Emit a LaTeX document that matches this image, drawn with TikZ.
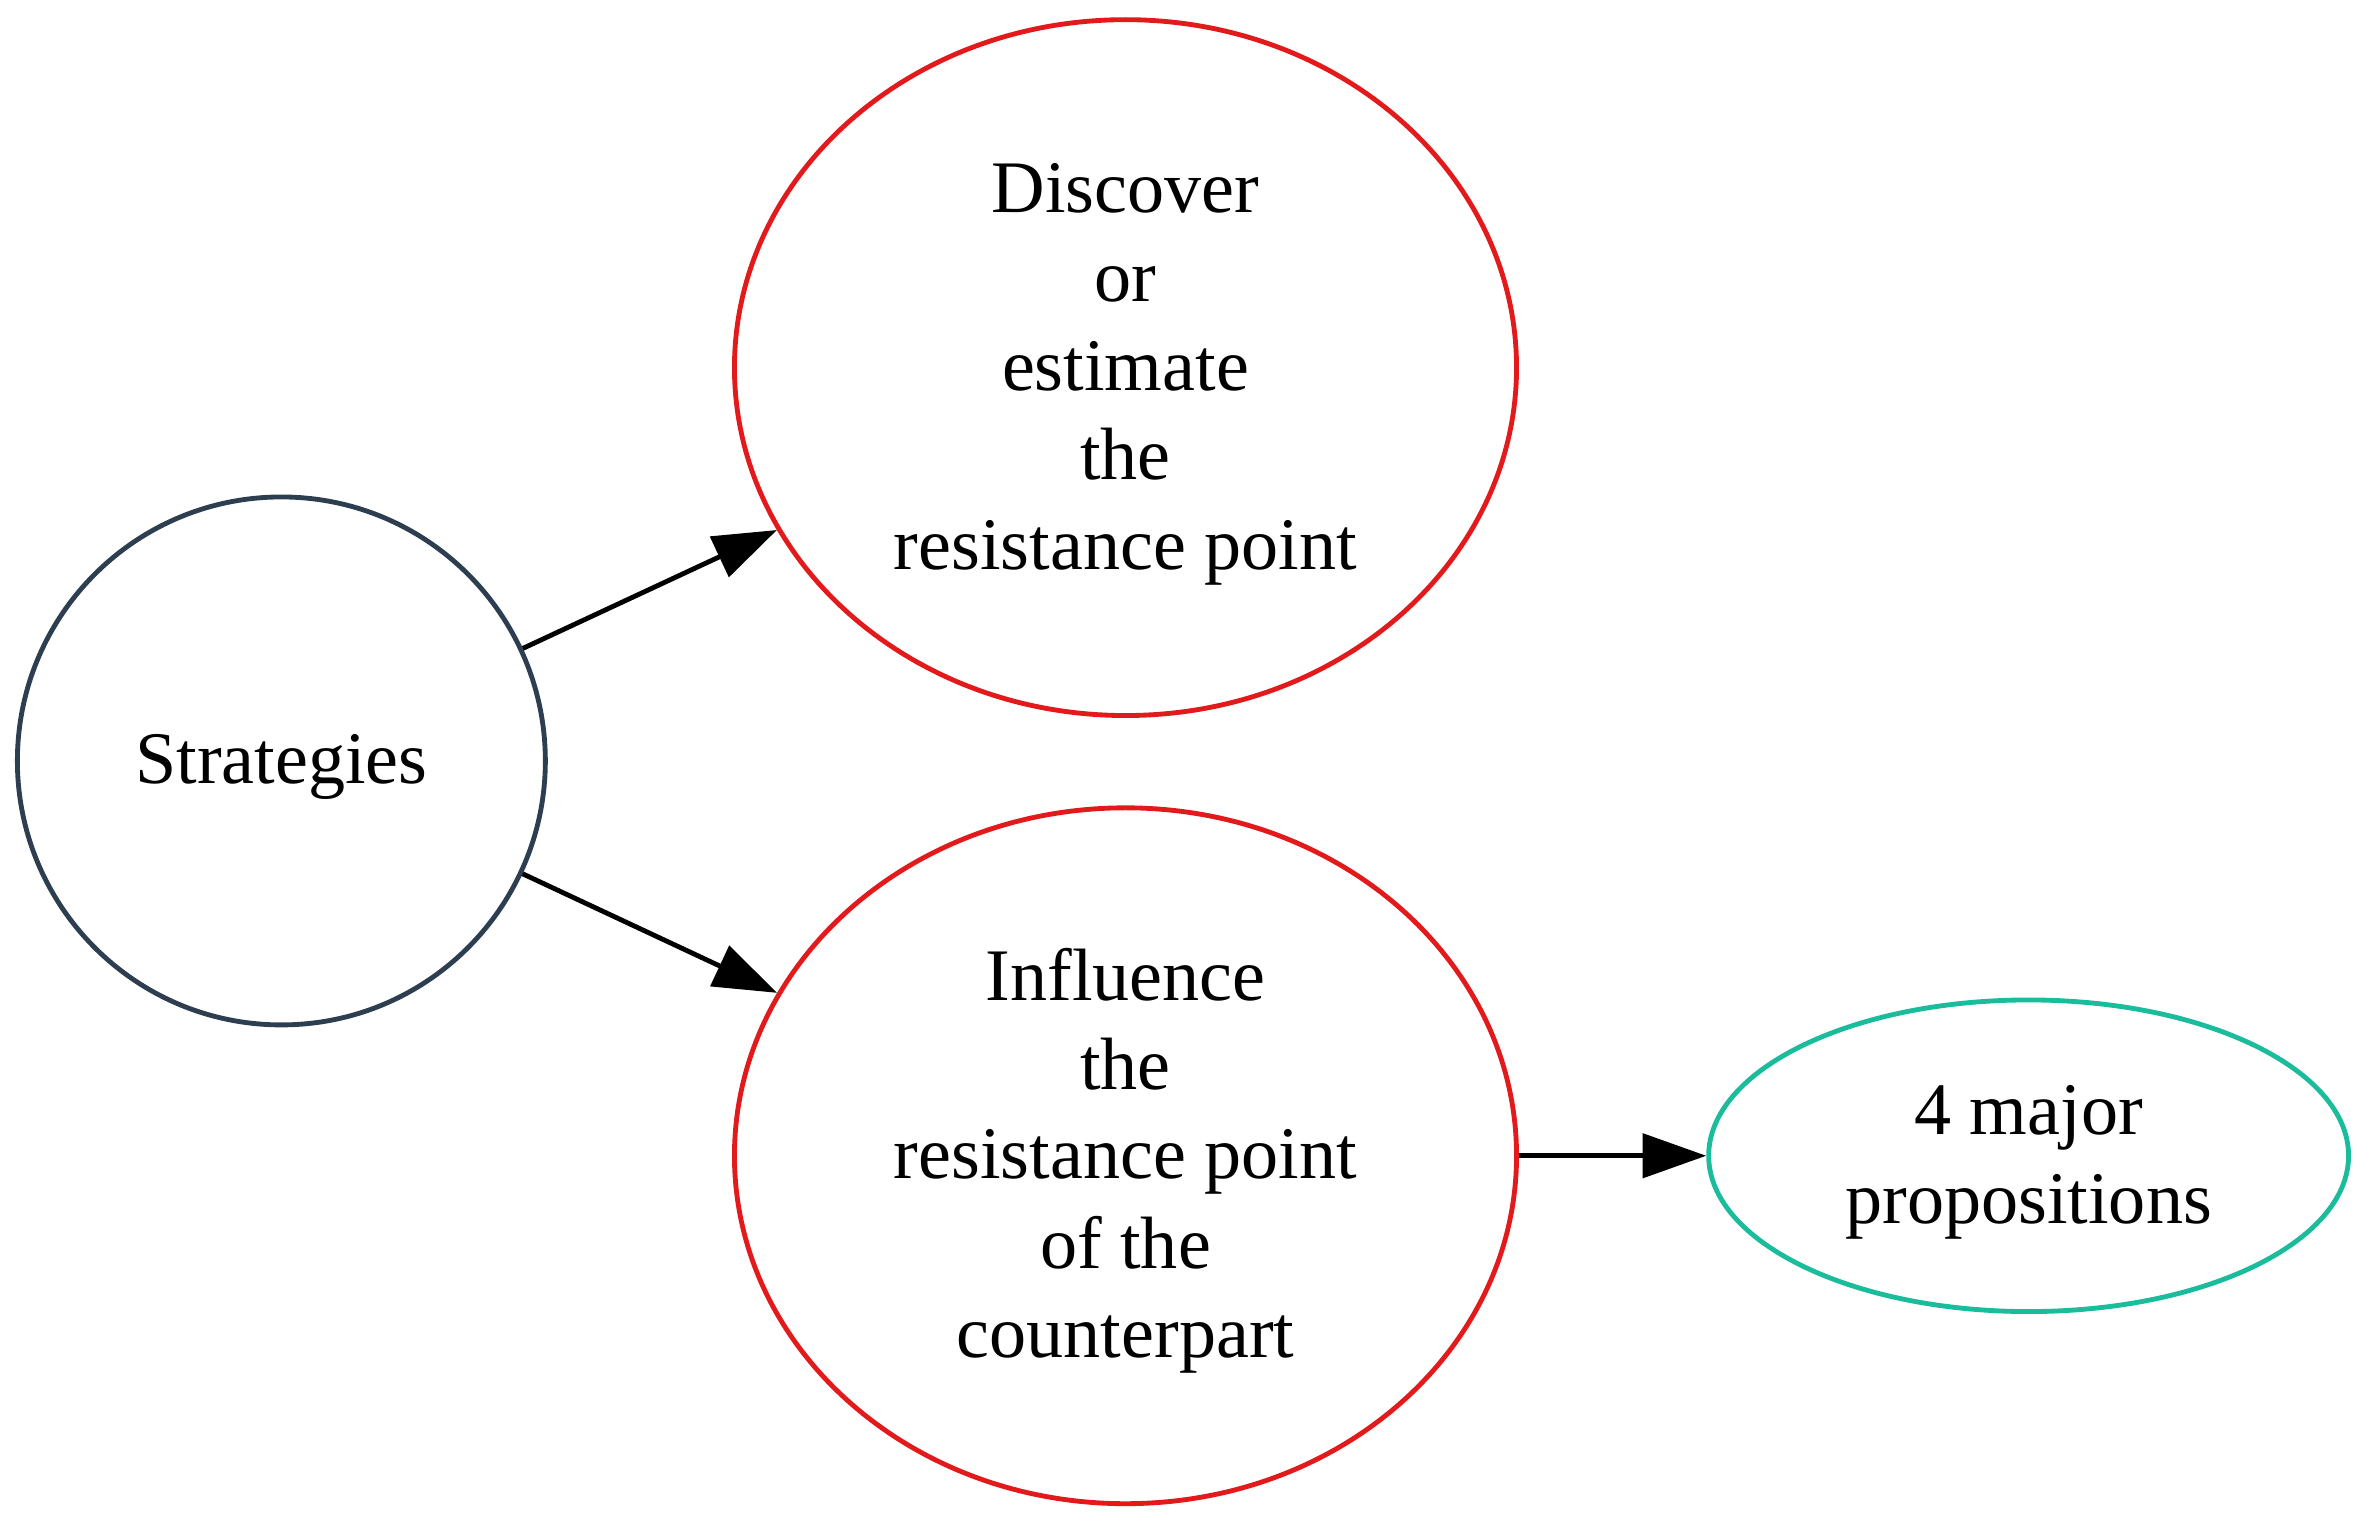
\documentclass[tikz,border=0pt]{standalone}
\usepackage{fontspec}
\setmainfont{Liberation Serif}
\usetikzlibrary{shapes.geometric,arrows.meta}
\definecolor{navy}{HTML}{2C3E50}
\definecolor{redline}{HTML}{E31A1C}
\definecolor{teal}{HTML}{1ABC9C}
\newcommand{\topstrut}{\rule{0pt}{41pt}}

\begin{document}
\begin{tikzpicture}[x=1pt, y=-1pt, line width=3.2pt,
    font=\fontsize{49}{59}\selectfont,
    main/.style = {draw, align=center, inner sep=0pt},
    edge/.style = {-{Triangle[length=42pt,width=29pt]}, black}]
                  \useasboundingbox (0,0) rectangle (1568,1007);
                  \node[main, circle, navy, text=black, minimum size=349pt] (1) at (186,503) {\topstrut Strategies};
                  \node[main, ellipse, redline, text=black, minimum width=517pt, minimum height=460pt] (2) at (744,243) {\topstrut Discover\\or\\estimate\\the\\resistance point};
                  \node[main, ellipse, redline, text=black, minimum width=517pt, minimum height=460pt] (3) at (744,764) {\topstrut Influence\\the\\resistance point\\of the\\counterpart};
                  \node[main, ellipse, teal, text=black, minimum width=423pt, minimum height=206pt] (4) at (1341,764) {\topstrut 4 major\\propositions};
                  \draw[edge] (1) to (2);
                  \draw[edge] (1) to (3);
                  \draw[edge] (3) to (4);
              \end{tikzpicture}
\end{document}
